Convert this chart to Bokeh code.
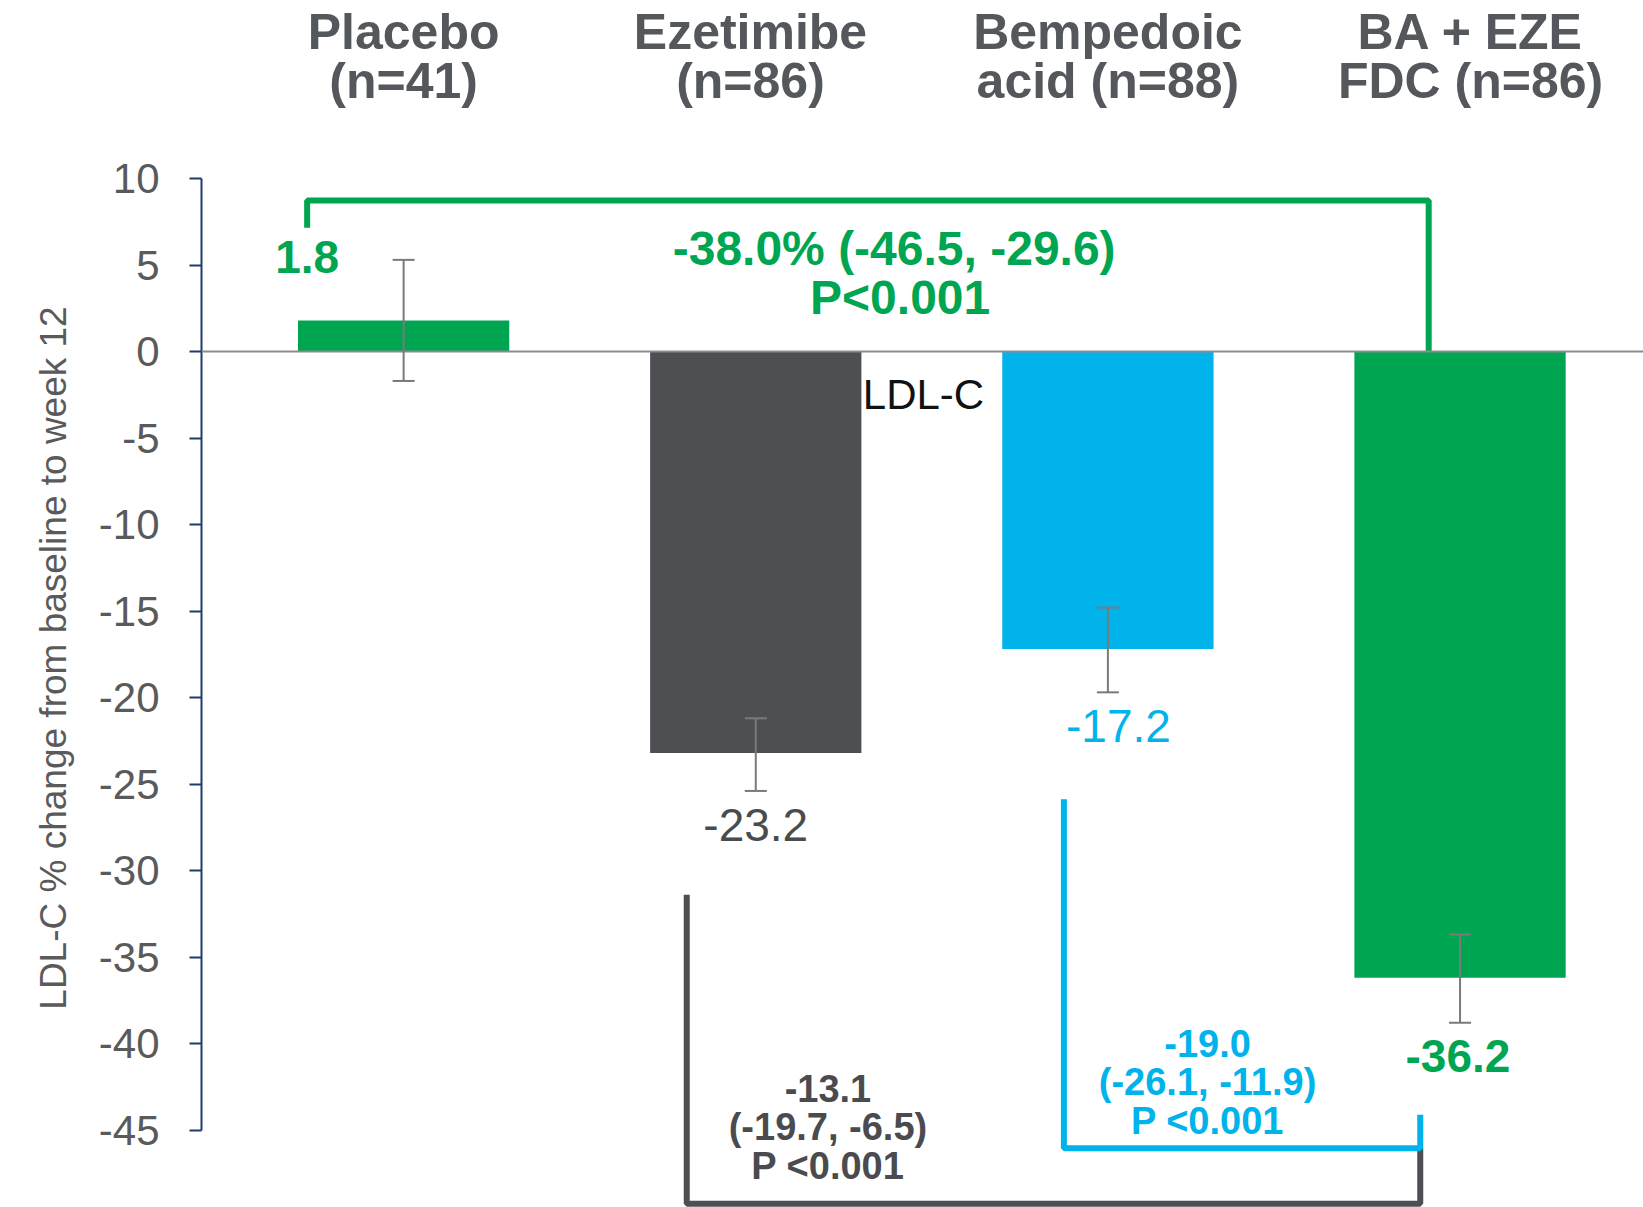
from bokeh.plotting import figure
from bokeh.layouts import column
from bokeh.models import ColumnDataSource, Range1d, FixedTicker, Span, Whisker, TeeHead
from bokeh.core.properties import value
from bokeh.embed import file_html
from bokeh.resources import INLINE

# ---- data ----
title_line1 = ["Placebo", "Ezetimibe", "Bempedoic", "BA + EZE"]
title_line2 = ["(n=41)", "(n=86)", "acid (n=88)", "FDC (n=86)"]
ldl_change = [1.8, -23.2, -17.2, -36.2]
err_upper = [5.3, -21.2, -14.8, -33.7]
err_lower = [-1.7, -25.4, -19.7, -38.8]
value_labels = ["1.8", "-23.2", "-17.2", "-36.2"]
y_ticks = [10, 5, 0, -5, -10, -15, -20, -25, -30, -35, -40, -45]
y_label = "LDL-C % change from baseline to week 12"

comp_main = ["-38.0% (-46.5, -29.6)", "P<0.001"]
comp_eze = ["-13.1", "(-19.7, -6.5)", "P <0.001"]
comp_ba = ["-19.0", "(-26.1, -11.9)", "P <0.001"]

# ---- style ----
GREEN = "#00A551"
DARK = "#4E4F53"
BLUE = "#00B3EA"
TXT = "#54575B"
AXIS = "#1F3A6E"
bar_colors = [GREEN, DARK, BLUE, GREEN]
label_colors = [GREEN, "#4A4B4F", BLUE, GREEN]
label_styles = ["bold", "normal", "normal", "bold"]
FONT = value("Liberation Sans")

xs = [1, 2, 3, 4]
X_RANGE = (0.426, 4.521)
TOP_H = 108
Y_SPLIT = 14.05

# ---- header figure with group titles ----
top = figure(width=1643, height=TOP_H, output_backend="svg", toolbar_location=None,
             x_range=Range1d(*X_RANGE), y_range=Range1d(Y_SPLIT, 20.29),
             x_axis_location=None, y_axis_location=None,
             min_border_left=201, min_border_right=0, min_border_top=0, min_border_bottom=0)
top.outline_line_color = None
top.grid.visible = False
title_dx = [0.0, -0.015, 0.0, 0.03]
tx = [x + d for x, d in zip(xs, title_dx)]
top.text(x=tx, y=[18.48] * 4, text=title_line1, text_font=FONT, text_font_style="bold",
         text_font_size="50px", text_color=TXT, text_align="center", text_baseline="middle")
top.text(x=tx, y=[15.64] * 4, text=title_line2, text_font=FONT, text_font_style="bold",
         text_font_size="50px", text_color=TXT, text_align="center", text_baseline="middle")

# ---- main figure ----
p = figure(width=1643, height=1207 - TOP_H, output_backend="svg", toolbar_location=None,
           x_range=Range1d(*X_RANGE), y_range=Range1d(-49.48, Y_SPLIT),
           x_axis_location=None, min_border_left=201, min_border_right=0,
           min_border_top=0, min_border_bottom=0)
p.outline_line_color = None
p.grid.visible = False

ya = p.yaxis[0]
ya.ticker = FixedTicker(ticks=y_ticks)
ya.major_label_overrides = {t: str(t) for t in y_ticks}
ya.bounds = (-45, 10)
ya.axis_line_color = AXIS
ya.axis_line_width = 2
ya.major_tick_line_color = AXIS
ya.major_tick_line_width = 2
ya.major_tick_out = 12
ya.major_tick_in = 0
ya.minor_tick_out = 0
ya.minor_tick_in = 0
ya.major_label_standoff = 30
ya.major_label_text_font = "Liberation Sans"
ya.major_label_text_font_size = "42px"
ya.major_label_text_color = "#5A5A5A"
ya.axis_label = y_label
ya.axis_label_text_font = "Liberation Sans"
ya.axis_label_text_font_size = "37px"
ya.axis_label_text_font_style = "normal"
ya.axis_label_text_color = "#5A5A5A"
ya.axis_label_standoff = 22

# zero line
p.add_layout(Span(location=0, dimension="width", line_color="#8C8C8C", line_width=2))

# bars
src = ColumnDataSource(dict(x=xs, top=ldl_change, color=bar_colors,
                            upper=err_upper, lower=err_lower))
p.vbar(x="x", top="top", bottom=0, width=0.6, color="color", source=src, line_color=None)

# error bars (drawn on top of bars)
p.add_layout(Whisker(source=src, base="x", upper="upper", lower="lower", level="overlay",
                     line_color="#7A7A7A", line_width=2,
                     upper_head=TeeHead(size=22, line_color="#7A7A7A", line_width=2),
                     lower_head=TeeHead(size=22, line_color="#7A7A7A", line_width=2)))

# bar value labels
lab_x = [0.726, 2.0, 3.03, 3.994]
lab_y = [5.45] + [lo - 1.95 for lo in err_lower[1:]]
for i in range(4):
    p.text(x=[lab_x[i]], y=[lab_y[i]], text=[value_labels[i]], text_font=FONT,
           text_font_style=label_styles[i], text_font_size="46px", text_color=label_colors[i],
           text_align="center", text_baseline="middle")

# stray "LDL-C" label
p.text(x=[2.304], y=[-2.48], text=["LDL-C"], text_font=FONT, text_font_size="42px",
       text_color="#111111", text_align="left", text_baseline="middle")

# brackets
p.line(x=[0.726, 0.726, 3.911, 3.911], y=[7.15, 8.73, 8.73, 0.0], line_color=GREEN, line_width=6)
p.line(x=[1.804, 1.804, 3.887, 3.887], y=[-31.4, -49.27, -49.27, -46.06], line_color=DARK, line_width=6)
p.line(x=[2.875, 2.875, 3.887, 3.887], y=[-25.88, -46.06, -46.06, -44.12], line_color=BLUE, line_width=6)

# comparison texts
p.text(x=[2.393, 2.41], y=[5.94, 3.15], text=comp_main, text_font=FONT, text_font_style="bold",
       text_font_size="48px", text_color=GREEN, text_align="center", text_baseline="middle")
p.text(x=[2.205] * 3, y=[-42.6, -44.85, -47.1], text=comp_eze, text_font=FONT, text_font_style="bold",
       text_font_size="38px", text_color="#4A4B4F", text_align="center", text_baseline="middle")
p.text(x=[3.283] * 3, y=[-40.0, -42.24, -44.48], text=comp_ba, text_font=FONT, text_font_style="bold",
       text_font_size="38px", text_color=BLUE, text_align="center", text_baseline="middle")

layout = column(top, p, spacing=0)
open("out.html", "w").write(file_html(layout, INLINE))
